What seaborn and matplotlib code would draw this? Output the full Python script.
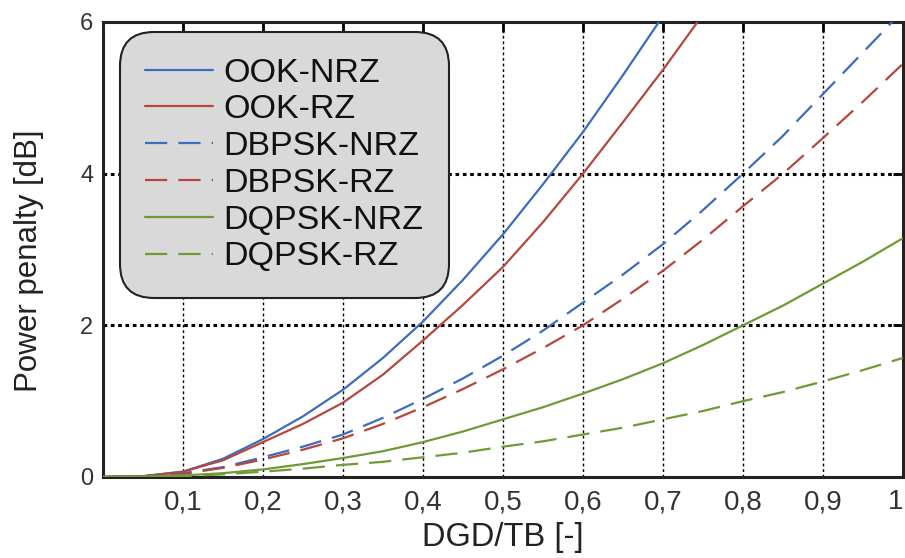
import matplotlib
matplotlib.use("Agg")
import matplotlib.pyplot as plt
import seaborn as sns
import pandas as pd
import numpy as np

# ---- data ----
x_vals = [0.0, 0.05, 0.1, 0.15, 0.2, 0.25, 0.3, 0.35, 0.4, 0.45, 0.5,
          0.55, 0.6, 0.65, 0.7, 0.75, 0.8, 0.85, 0.9, 0.95, 1.0]

ook_nrz = [0.0, 0.01, 0.07, 0.24, 0.5, 0.8, 1.15, 1.57, 2.05, 2.6, 3.2,
           3.86, 4.55, 5.3, 6.08]
ook_rz = [0.0, 0.01, 0.07, 0.22, 0.46, 0.7, 0.98, 1.35, 1.8, 2.27, 2.77,
          3.36, 4.0, 4.68, 5.37, 6.1]
dbpsk_nrz = [0.0, 0.01, 0.05, 0.13, 0.26, 0.4, 0.56, 0.78, 1.03, 1.3, 1.6,
             1.93, 2.3, 2.67, 3.07, 3.52, 4.0, 4.5, 5.05, 5.6, 6.15]
dbpsk_rz = [0.0, 0.01, 0.04, 0.12, 0.23, 0.36, 0.51, 0.7, 0.92, 1.16, 1.42,
            1.7, 2.0, 2.35, 2.72, 3.13, 3.57, 4.0, 4.47, 4.95, 5.45]
dqpsk_nrz = [0.0, 0.005, 0.02, 0.05, 0.1, 0.17, 0.25, 0.34, 0.46, 0.6, 0.76,
             0.92, 1.1, 1.29, 1.5, 1.74, 2.0, 2.26, 2.55, 2.84, 3.15]
dqpsk_rz = [0.0, 0.003, 0.01, 0.035, 0.07, 0.11, 0.16, 0.2, 0.26, 0.32, 0.4,
            0.47, 0.56, 0.65, 0.76, 0.87, 1.0, 1.12, 1.26, 1.41, 1.57]

series_names = ["OOK-NRZ", "OOK-RZ", "DBPSK-NRZ", "DBPSK-RZ", "DQPSK-NRZ", "DQPSK-RZ"]
series_values = [ook_nrz, ook_rz, dbpsk_nrz, dbpsk_rz, dqpsk_nrz, dqpsk_rz]

x_ticks = [0.1, 0.2, 0.3, 0.4, 0.5, 0.6, 0.7, 0.8, 0.9, 1.0]
x_tick_labels = ["0,1", "0,2", "0,3", "0,4", "0,5", "0,6", "0,7", "0,8", "0,9", "1"]
y_ticks = [0, 2, 4, 6]
y_tick_labels = ["0", "2", "4", "6"]

# ---- styling ----
sns.set_style("white")
plt.rcParams['font.family'] = ['Liberation Sans', 'DejaVu Sans']

colors = {"OOK-NRZ": "#3a6cc0", "OOK-RZ": "#b5473f",
          "DBPSK-NRZ": "#3a6cc0", "DBPSK-RZ": "#b5473f",
          "DQPSK-NRZ": "#6f9a35", "DQPSK-RZ": "#6f9a35"}
styles = {"OOK-NRZ": "-", "OOK-RZ": "-",
          "DBPSK-NRZ": (0, (10, 5)), "DBPSK-RZ": (0, (10, 5)),
          "DQPSK-NRZ": "-", "DQPSK-RZ": (0, (10, 5))}

rows = []
for name, vals in zip(series_names, series_values):
    for xv, yv in zip(x_vals, vals):
        rows.append({"x": xv, "y": yv, "series": name})
df = pd.DataFrame(rows)

fig = plt.figure(figsize=(9.05, 5.58), dpi=100)
ax = fig.add_axes([0.1138, 0.1452, 0.8840, 0.8154])

for name in series_names:
    sub = df[df["series"] == name]
    sns.lineplot(data=sub, x="x", y="y", ax=ax, color=colors[name],
                 linewidth=1.6, label=name, zorder=3)
    ax.lines[-1].set_linestyle(styles[name])

ax.set_xlim(0, 1)
ax.set_ylim(0, 6)

# grid
for gx in [0.1, 0.2, 0.3, 0.4, 0.5, 0.6, 0.7, 0.8, 0.9]:
    ax.axvline(gx, color="black", linestyle=(0, (2, 2)), linewidth=1.0, zorder=1)
for gy in [2, 4]:
    ax.axhline(gy, color="black", linestyle=(0, (1.2, 1.2)), linewidth=2.2, zorder=1)

ax.set_xticks(x_ticks)
ax.set_xticklabels(x_tick_labels, fontsize=20, color="#333333")
ax.get_xticklabels()[-1].set_horizontalalignment("right")
ax.set_yticks(y_ticks)
ax.set_yticklabels(y_tick_labels, fontsize=17, color="#333333")
ax.tick_params(axis="both", direction="in", length=7, width=2, color="black",
               top=True, right=True)
ax.tick_params(axis="x", pad=9)
ax.tick_params(axis="y", pad=7)

for sp in ax.spines.values():
    sp.set_linewidth(2.2)
    sp.set_color("#222222")

ax.set_xlabel("DGD/TB [-]", fontsize=23.5, color="#222222", labelpad=5)
ax.set_ylabel("Power penalty [dB]", fontsize=22.5, color="#222222", labelpad=26)
ax.yaxis.label.set_y(0.475)

leg = ax.legend(loc="upper left", bbox_to_anchor=(0.021, 0.978), borderaxespad=0,
                fontsize=24.5, frameon=True, fancybox=True, handlelength=2.0,
                handletextpad=0.3, labelspacing=0.17, borderpad=0.75)
frame = leg.get_frame()
frame.set_facecolor("#d9d9d9")
frame.set_edgecolor("#222222")
frame.set_linewidth(1.5)
frame.set_alpha(1.0)
frame.set_boxstyle("round,pad=0,rounding_size=1.0")
for t in leg.get_texts():
    t.set_color("#111111")
leg.set_zorder(5)

fig.savefig("out.png", dpi=100)
